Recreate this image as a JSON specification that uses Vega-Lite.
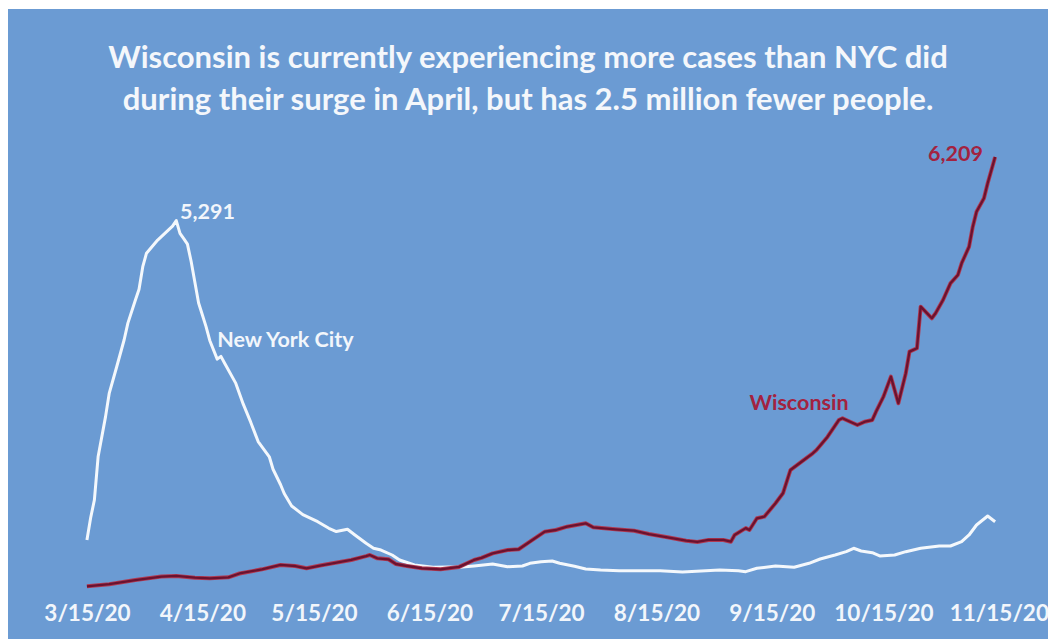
{
  "$schema": "https://vega.github.io/schema/vega-lite/v6.json",
  "width": 1040,
  "height": 630,
  "autosize": {"type": "none"},
  "padding": {"left": 8, "top": 9, "right": 0, "bottom": 0},
  "background": "#ffffff",
  "config": {"view": {"fill": "#6b9bd3", "stroke": null}},
  "title": {
    "text": ["Wisconsin is currently experiencing more cases than NYC did", "during their surge in April, but has 2.5 million fewer people."],
    "anchor": "middle", "frame": "group", "color": "#f4f7fb", "fontSize": 31, "font": "Lato", "fontWeight": "bold", "lineHeight": 42, "offset": -108
  },
  "datasets": {
    "nyc": [
      {"date": "2020-03-15", "value": 680}, {"date": "2020-03-16", "value": 1000}, {"date": "2020-03-17", "value": 1256}, {"date": "2020-03-18", "value": 1880},
      {"date": "2020-03-20", "value": 2460}, {"date": "2020-03-21", "value": 2800}, {"date": "2020-03-23", "value": 3180}, {"date": "2020-03-25", "value": 3570},
      {"date": "2020-03-26", "value": 3810}, {"date": "2020-03-28", "value": 4140}, {"date": "2020-03-29", "value": 4300}, {"date": "2020-03-30", "value": 4625},
      {"date": "2020-03-31", "value": 4820}, {"date": "2020-04-03", "value": 5010}, {"date": "2020-04-06", "value": 5160}, {"date": "2020-04-07", "value": 5210},
      {"date": "2020-04-08", "value": 5291}, {"date": "2020-04-09", "value": 5107}, {"date": "2020-04-10", "value": 5030}, {"date": "2020-04-11", "value": 4950},
      {"date": "2020-04-12", "value": 4700}, {"date": "2020-04-13", "value": 4400}, {"date": "2020-04-14", "value": 4100}, {"date": "2020-04-15", "value": 3930},
      {"date": "2020-04-16", "value": 3760}, {"date": "2020-04-17", "value": 3560}, {"date": "2020-04-19", "value": 3290}, {"date": "2020-04-20", "value": 3330},
      {"date": "2020-04-21", "value": 3230}, {"date": "2020-04-24", "value": 2940}, {"date": "2020-04-26", "value": 2640}, {"date": "2020-04-28", "value": 2380},
      {"date": "2020-04-30", "value": 2100}, {"date": "2020-05-03", "value": 1880}, {"date": "2020-05-04", "value": 1700}, {"date": "2020-05-06", "value": 1480},
      {"date": "2020-05-07", "value": 1350}, {"date": "2020-05-09", "value": 1170}, {"date": "2020-05-12", "value": 1045}, {"date": "2020-05-16", "value": 943},
      {"date": "2020-05-19", "value": 847}, {"date": "2020-05-21", "value": 800}, {"date": "2020-05-24", "value": 833}, {"date": "2020-05-26", "value": 751},
      {"date": "2020-05-29", "value": 631}, {"date": "2020-05-31", "value": 560}, {"date": "2020-06-02", "value": 534}, {"date": "2020-06-05", "value": 462},
      {"date": "2020-06-07", "value": 390}, {"date": "2020-06-11", "value": 318}, {"date": "2020-06-16", "value": 284}, {"date": "2020-06-20", "value": 290},
      {"date": "2020-06-23", "value": 284}, {"date": "2020-06-27", "value": 303}, {"date": "2020-07-02", "value": 332}, {"date": "2020-07-06", "value": 293},
      {"date": "2020-07-10", "value": 303}, {"date": "2020-07-12", "value": 342}, {"date": "2020-07-15", "value": 366}, {"date": "2020-07-18", "value": 375},
      {"date": "2020-07-20", "value": 342}, {"date": "2020-07-24", "value": 300}, {"date": "2020-07-27", "value": 260}, {"date": "2020-07-31", "value": 245},
      {"date": "2020-08-05", "value": 235}, {"date": "2020-08-11", "value": 235}, {"date": "2020-08-16", "value": 235}, {"date": "2020-08-22", "value": 217},
      {"date": "2020-08-27", "value": 231}, {"date": "2020-09-01", "value": 245}, {"date": "2020-09-06", "value": 235}, {"date": "2020-09-08", "value": 221},
      {"date": "2020-09-11", "value": 270}, {"date": "2020-09-16", "value": 303}, {"date": "2020-09-21", "value": 284}, {"date": "2020-09-25", "value": 342},
      {"date": "2020-09-28", "value": 404}, {"date": "2020-10-02", "value": 462}, {"date": "2020-10-05", "value": 510}, {"date": "2020-10-07", "value": 559},
      {"date": "2020-10-09", "value": 520}, {"date": "2020-10-12", "value": 495}, {"date": "2020-10-14", "value": 448}, {"date": "2020-10-18", "value": 462},
      {"date": "2020-10-21", "value": 510}, {"date": "2020-10-25", "value": 559}, {"date": "2020-10-30", "value": 592}, {"date": "2020-11-02", "value": 592},
      {"date": "2020-11-05", "value": 654}, {"date": "2020-11-07", "value": 751}, {"date": "2020-11-09", "value": 895}, {"date": "2020-11-12", "value": 1025},
      {"date": "2020-11-14", "value": 943}
    ],
    "wi": [
      {"date": "2020-03-15", "value": 10}, {"date": "2020-03-21", "value": 40}, {"date": "2020-03-28", "value": 100}, {"date": "2020-04-04", "value": 150},
      {"date": "2020-04-08", "value": 160}, {"date": "2020-04-13", "value": 135}, {"date": "2020-04-17", "value": 125}, {"date": "2020-04-22", "value": 140},
      {"date": "2020-04-25", "value": 195}, {"date": "2020-05-01", "value": 255}, {"date": "2020-05-06", "value": 318}, {"date": "2020-05-10", "value": 303},
      {"date": "2020-05-13", "value": 270}, {"date": "2020-05-17", "value": 313}, {"date": "2020-05-20", "value": 342}, {"date": "2020-05-25", "value": 390},
      {"date": "2020-05-29", "value": 445}, {"date": "2020-05-30", "value": 462}, {"date": "2020-06-01", "value": 414}, {"date": "2020-06-04", "value": 400},
      {"date": "2020-06-06", "value": 332}, {"date": "2020-06-09", "value": 303}, {"date": "2020-06-13", "value": 270}, {"date": "2020-06-18", "value": 255},
      {"date": "2020-06-23", "value": 290}, {"date": "2020-06-27", "value": 390}, {"date": "2020-06-29", "value": 420}, {"date": "2020-07-02", "value": 486},
      {"date": "2020-07-06", "value": 534}, {"date": "2020-07-09", "value": 545}, {"date": "2020-07-12", "value": 654}, {"date": "2020-07-16", "value": 799},
      {"date": "2020-07-19", "value": 823}, {"date": "2020-07-22", "value": 871}, {"date": "2020-07-27", "value": 920}, {"date": "2020-07-29", "value": 862},
      {"date": "2020-08-04", "value": 833}, {"date": "2020-08-09", "value": 813}, {"date": "2020-08-13", "value": 765}, {"date": "2020-08-18", "value": 718},
      {"date": "2020-08-23", "value": 669}, {"date": "2020-08-26", "value": 650}, {"date": "2020-08-29", "value": 679}, {"date": "2020-09-02", "value": 679},
      {"date": "2020-09-04", "value": 654}, {"date": "2020-09-05", "value": 751}, {"date": "2020-09-08", "value": 850}, {"date": "2020-09-09", "value": 823},
      {"date": "2020-09-11", "value": 992}, {"date": "2020-09-13", "value": 1016}, {"date": "2020-09-16", "value": 1209}, {"date": "2020-09-18", "value": 1353},
      {"date": "2020-09-20", "value": 1689}, {"date": "2020-09-23", "value": 1809}, {"date": "2020-09-26", "value": 1930}, {"date": "2020-09-27", "value": 1978},
      {"date": "2020-09-30", "value": 2170}, {"date": "2020-10-03", "value": 2411}, {"date": "2020-10-04", "value": 2436}, {"date": "2020-10-05", "value": 2411},
      {"date": "2020-10-08", "value": 2339}, {"date": "2020-10-10", "value": 2387}, {"date": "2020-10-12", "value": 2411}, {"date": "2020-10-13", "value": 2531},
      {"date": "2020-10-15", "value": 2748}, {"date": "2020-10-17", "value": 3037}, {"date": "2020-10-19", "value": 2653}, {"date": "2020-10-21", "value": 3086},
      {"date": "2020-10-22", "value": 3398}, {"date": "2020-10-24", "value": 3447}, {"date": "2020-10-25", "value": 4048}, {"date": "2020-10-28", "value": 3880},
      {"date": "2020-10-29", "value": 3952}, {"date": "2020-10-31", "value": 4144}, {"date": "2020-11-02", "value": 4385}, {"date": "2020-11-04", "value": 4505},
      {"date": "2020-11-05", "value": 4674}, {"date": "2020-11-07", "value": 4914}, {"date": "2020-11-08", "value": 5203}, {"date": "2020-11-09", "value": 5419},
      {"date": "2020-11-11", "value": 5613}, {"date": "2020-11-12", "value": 5829}, {"date": "2020-11-14", "value": 6209}
    ],
    "notes": [
      {"label": "5,291", "series": "NYC", "date": "2020-04-09", "value": 5400},
      {"label": "New York City", "series": "NYC", "date": "2020-04-19", "value": 3552},
      {"label": "Wisconsin", "series": "Wisconsin", "date": "2020-09-09", "value": 2642},
      {"label": "6,209", "series": "Wisconsin", "date": "2020-10-27", "value": 6238}
    ],
    "base": [{"date": "2020-03-04", "end": "2020-11-17"}]
  },
  "encoding": {
    "x": {
      "field": "date", "type": "temporal",
      "scale": {"type": "utc", "domain": [{"year": 2020, "month": 2, "date": 22, "hours": 19, "utc": true}, {"year": 2020, "month": 11, "date": 28, "hours": 5, "utc": true}]},
      "axis": {
        "title": null, "domain": false, "ticks": false, "grid": false, "offset": -52,
        "values": [
          {"year": 2020, "month": 3, "date": 15, "utc": true}, {"year": 2020, "month": 4, "date": 15, "utc": true}, {"year": 2020, "month": 5, "date": 15, "utc": true},
          {"year": 2020, "month": 6, "date": 15, "utc": true}, {"year": 2020, "month": 7, "date": 15, "utc": true}, {"year": 2020, "month": 8, "date": 15, "utc": true},
          {"year": 2020, "month": 9, "date": 15, "utc": true}, {"year": 2020, "month": 10, "date": 15, "utc": true}, {"year": 2020, "month": 11, "date": 15, "utc": true}
        ],
        "format": "%-m/%-d/%y", "labelFont": "Lato", "labelFontWeight": "bold", "labelFontSize": 22.5, "labelColor": "#f2f6fb",
        "labelPadding": 15, "labelFlush": false, "labelOverlap": false
      }
    },
    "y": {
      "field": "value", "type": "quantitative",
      "scale": {"domain": [-751, 8346], "nice": false, "zero": false},
      "axis": null
    }
  },
  "layer": [
    {
      "data": {"name": "base"},
      "mark": {"type": "rule", "color": "#a9c6ea", "strokeWidth": 2},
      "encoding": {"x2": {"field": "end"}, "y": {"datum": 0}}
    },
    {
      "data": {"name": "nyc"},
      "mark": {"type": "line", "color": "#f4f8fc", "strokeWidth": 3, "strokeJoin": "round"}
    },
    {
      "data": {"name": "wi"},
      "mark": {"type": "line", "color": "#b03a52", "strokeWidth": 4, "strokeJoin": "round"}
    },
    {
      "data": {"name": "wi"},
      "mark": {"type": "line", "color": "#6a1230", "strokeWidth": 2.3, "strokeJoin": "round"}
    },
    {
      "data": {"name": "notes"},
      "mark": {"type": "text", "align": "left", "baseline": "middle", "font": "Lato", "fontWeight": "bold", "fontSize": 21.5},
      "encoding": {
        "text": {"field": "label"},
        "color": {"field": "series", "type": "nominal", "scale": {"domain": ["NYC", "Wisconsin"], "range": ["#f2f6fb", "#a3223f"]}, "legend": null}
      }
    }
  ]
}
